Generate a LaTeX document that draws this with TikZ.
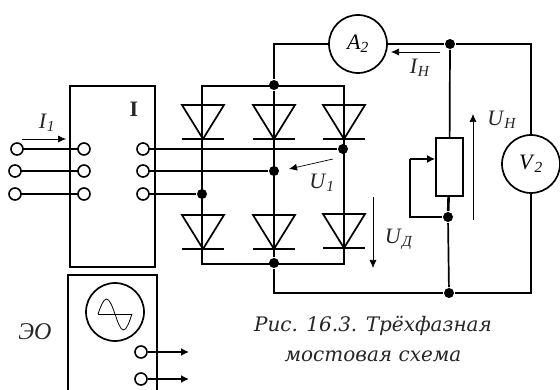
\documentclass[tikz,border=0pt]{standalone}
\usepackage{fontspec}
\setmainfont{Liberation Serif}
\newfontfamily\capfont{DejaVu Serif}
\usetikzlibrary{arrows.meta, positioning, calc}
\newcommand{\lbl}[2]{\textit{#1}\textsubscript{\textit{#2}}}

\begin{document}
\begin{tikzpicture}[ x=1pt, y=-1pt, line width=1.7pt,
      termin/.style={circle, draw, fill=white, line width=1.6pt, inner sep=0pt, minimum size=12pt},
      junct/.style={circle, fill=black, inner sep=0pt, minimum size=10pt},
      meter/.style={circle, draw, inner sep=0pt, minimum size=58pt, font=\fontsize{22pt}{24pt}\selectfont},
      rheo/.style={draw, inner sep=0pt, minimum width=27pt, minimum height=58pt},
      thinarrow/.style={line width=0.7pt, -{Latex[length=8pt,width=7pt]}},
      wirearrow/.style={line width=1.7pt, -{Latex[length=8pt,width=8pt]}},
      label/.style={font=\fontsize{22pt}{24pt}\selectfont, text=black!85, inner sep=0pt},
      caption/.style={font=\fontsize{20pt}{24pt}\selectfont\capfont\itshape, text=black!85, inner sep=0pt} ]
    \useasboundingbox (0,0) rectangle (560,390);

    % Boxes
    \draw (70,86) rectangle (155,267);
    \draw (68,390) |- (157,275) -- (157,390);

    % Terminals of box I
    \foreach \name/\xx/\yy in {oa/17/149, ob/15/171, oc/15/194, ia/84/149, ib/84/171, ic/84/194,
      ra/143/149, rb/143/171, rc/143/194} {
      \coordinate (\name) at (\xx,\yy);
    }

    % Bridge corners and junctions
    \coordinate (tl) at (202,86); \coordinate (br) at (344,264);
    \node[junct] (dtop) at (274,85) {}; \node[junct] (dbot) at (274,263) {};
    \node[junct] (dc) at (343,149) {}; \node[junct] (db) at (274,171) {};
    \node[junct] (da) at (202,194) {};

    % Meters and load
    \node[meter] (metera) at (358,44) {\lbl{A}{2}};
    \node[meter] (meterv) at (531,164) {\lbl{V}{2}};
    \node[junct] (dhi) at (450,44) {}; \node[junct] (dlo) at (449,293) {};
    \node[rheo] (load) at (449.5,167) {};
    \node[junct] (dmid) at (448,217) {};
    \coordinate (tapend) at (410,159);
    \coordinate (cornerv) at (531,44);

    % Wires
    \draw (tl) rectangle (br);
    \draw (dtop) -- (dbot);
    \draw (oa) -- (ia); \draw (ob) -- (ib); \draw (oc) -- (ic);
    \draw (ra) -- (dc); \draw (rb) -- (db); \draw (rc) -- (da);
    \draw (dtop) |- (metera);
    \draw (metera) -- (dhi) -- (cornerv) -- (meterv);
    \draw (meterv) |- (dlo);
    \draw (dbot) |- (dlo);
    \draw (dhi) -- (load);
    \draw[line width=2.6pt] (load) -- (dmid);
    \draw (dmid) -- (dlo);
    \draw (dmid) -| (tapend);
    \draw[wirearrow] (tapend) -- (load.west |- tapend);

    % Terminal circles on top of wires
    \foreach \name in {oa, ob, oc, ia, ib, ic, ra, rb, rc} {
      \node[termin] at (\name) {};
    }

    % Diodes
    \foreach \xx/\yy in {203/105, 274/105, 344/105, 203/215, 274/215, 344/214} {
      \draw (\xx-21,\yy) -- (\xx+21,\yy) -- (\xx,\yy+34) -- cycle;
      \draw (\xx-21,\yy+34) -- (\xx+21,\yy+34);
    }

    % Oscilloscope screen
    \node[circle, draw, minimum size=58pt, inner sep=0pt] (screen) at (115,312) {};
    \draw[line width=0.8pt] (98,314) -- (132,314);
    \draw[line width=0.8pt] (98,314) sin (106.5,299) cos (115,314) sin (123.5,330) cos (132,314);

    % Oscilloscope outputs
    \node[termin] (outa) at (141,352) {}; \node[termin] (outb) at (141,379) {};
    \coordinate (enda) at (189,352); \coordinate (endb) at (189,379);
    \draw[wirearrow] (outa) -- (enda); \draw[wirearrow] (outb) -- (endb);

    % Reference arrows
    \coordinate (iona) at (22,139); \coordinate (ionb) at (66,139);
    \draw[thinarrow] (iona) -- (ionb);
    \coordinate (inha) at (440,52); \coordinate (inhb) at (391,52);
    \draw[thinarrow] (inha) -- (inhb);
    \coordinate (unha) at (473,220); \coordinate (unhb) at (473,114);
    \draw[thinarrow] (unha) -- (unhb);
    \coordinate (udna) at (373,197); \coordinate (udnb) at (373,268);
    \draw[thinarrow] (udna) -- (udnb);
    \coordinate (uona) at (333,159); \coordinate (uonb) at (289,169);
    \draw[thinarrow] (uona) -- (uonb);

    % Labels
    \node[label] (ti) at (134,109) {\textbf{I}};
    \node[label] (tione) at (47,123) {\lbl{I}{1}};
    \node[label] (tinh) at (420,68) {\lbl{I}{Н}};
    \node[label] (tunh) at (502,120) {\lbl{U}{Н}};
    \node[label] (tudn) at (399,239) {\lbl{U}{Д}};
    \node[label] (tuone) at (322,183) {\lbl{U}{1}};
    \node[label, font=\fontsize{24pt}{26pt}\selectfont] (teo) at (35,332) {\textit{ЭО}};

    % Caption
    \node[caption] (capa) at (373,326) {Рис. 16.3. Трёхфазная};
    \node[caption] (capb) at (373,356) {мостовая схема};
\end{tikzpicture}
\end{document}
